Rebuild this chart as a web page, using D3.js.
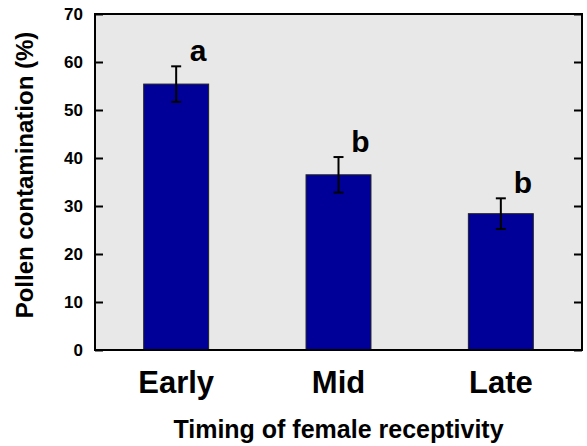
<!DOCTYPE html>
<html>
<head>
<meta charset="utf-8">
<script src="https://cdn.jsdelivr.net/npm/d3@7"></script>
<style>
  body { margin:0; background:#fff; }
  text { font-family: "Liberation Sans", Arial, sans-serif; font-weight: bold; }
</style>
</head>
<body>
<div id="chart"></div>
<script>
// data
const categories = ["Early","Mid","Late"];
const means = [55.4, 36.5, 28.4];
const errors = [3.7, 3.7, 3.2];
const letters = ["a","b","b"];
const yTicks = [0,10,20,30,40,50,60,70];

const margin = {top:14, right:5, bottom:96, left:95};
const width = 587 - margin.left - margin.right;
const height = 446 - margin.top - margin.bottom;

const svg = d3.select("#chart")
    .append("svg")
    .attr("width",587)
    .attr("height",446)
    .append("g")
    .attr("transform",`translate(${margin.left},${margin.top})`);

const x = d3.scaleBand()
    .domain(categories)
    .range([0,width])
    .paddingInner(0.6)
    .paddingOuter(0.3);

const y = d3.scaleLinear()
    .domain([0,70])
    .range([height,0]);

// plot background
svg.append("rect")
    .attr("width",width)
    .attr("height",height)
    .style("fill","#e8e8e8");

const rows = categories.map((c,i) => ({cat:c, mean:means[i], err:errors[i], letter:letters[i]}));

svg.selectAll(".bar")
    .data(rows)
    .enter()
    .append("rect")
    .attr("class","bar")
    .attr("x",d => x(d.cat))
    .attr("y",d => y(d.mean))
    .attr("width",x.bandwidth())
    .attr("height",d => height - y(d.mean))
    .style("fill","#000099")
    .style("stroke","#222")
    .style("stroke-width","1px");

// error bars
const eb = svg.selectAll(".err")
    .data(rows)
    .enter()
    .append("g")
    .attr("class","err")
    .style("stroke","#000")
    .style("stroke-width","2px");
eb.append("line")
    .attr("x1",d => x(d.cat) + x.bandwidth()/2)
    .attr("x2",d => x(d.cat) + x.bandwidth()/2)
    .attr("y1",d => y(d.mean + d.err))
    .attr("y2",d => y(d.mean - d.err));
[1,-1].forEach(s => {
    eb.append("line")
        .attr("x1",d => x(d.cat) + x.bandwidth()/2 - 5)
        .attr("x2",d => x(d.cat) + x.bandwidth()/2 + 5)
        .attr("y1",d => y(d.mean + s*d.err))
        .attr("y2",d => y(d.mean + s*d.err));
});

// significance letters
svg.selectAll(".letter")
    .data(rows)
    .enter()
    .append("text")
    .attr("class","letter")
    .attr("x",d => x(d.cat) + x.bandwidth()/2 + 22)
    .attr("y",d => y(d.mean + d.err) - 5)
    .style("text-anchor","middle")
    .style("font-size","30px")
    .text(d => d.letter);

// axes
const yAxis = svg.append("g")
    .call(d3.axisLeft(y).tickValues(yTicks).tickSize(-8).tickPadding(12));
yAxis.select(".domain").remove();
yAxis.selectAll("line").style("stroke","#000").style("stroke-width","2px");
yAxis.selectAll("text").style("font-size","17px").style("fill","#000");

const yAxisR = svg.append("g")
    .attr("transform",`translate(${width},0)`)
    .call(d3.axisRight(y).tickValues(yTicks).tickSize(-8).tickFormat(""));
yAxisR.select(".domain").remove();
yAxisR.selectAll("line").style("stroke","#000").style("stroke-width","2px");

const xAxis = svg.append("g")
    .attr("transform",`translate(0,${height})`)
    .call(d3.axisBottom(x).tickSize(0).tickPadding(0));
xAxis.select(".domain").remove();
xAxis.selectAll("text")
    .attr("dy",null)
    .attr("y",43)
    .style("font-size","31px")
    .style("fill","#000");

// frame
svg.append("rect")
    .attr("width",width)
    .attr("height",height)
    .style("fill","none")
    .style("stroke","#000")
    .style("stroke-width","2px");

// axis titles
svg.append("text")
    .attr("x",width/2)
    .attr("y",height + 88)
    .style("text-anchor","middle")
    .style("font-size","25px")
    .text("Timing of female receptivity");

svg.append("text")
    .attr("transform","rotate(-90)")
    .attr("x",-161)
    .attr("y",-62)
    .style("text-anchor","middle")
    .style("font-size","24px")
    .text("Pollen contamination (%)");
</script>
</body>
</html>
